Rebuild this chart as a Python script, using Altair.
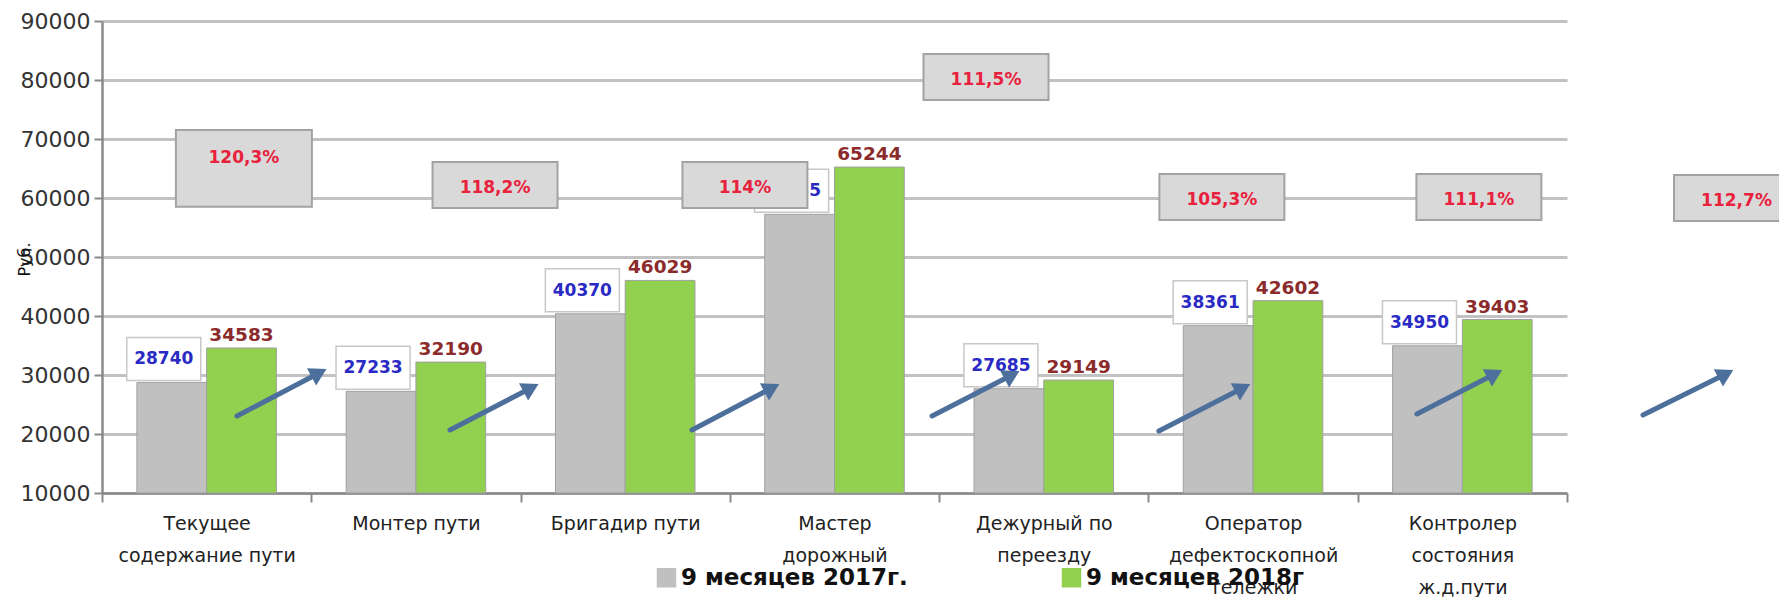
import altair as alt
import pandas as pd

# ---------------- data ----------------
categories = [
    "Текущее\nсодержание пути",
    "Монтер пути",
    "Бригадир пути",
    "Мастер\nдорожный",
    "Дежурный по\nпереезду",
    "Оператор\nдефектоскопной\nтележки",
    "Контролер\nсостояния\nж.д.пути",
]
series_names = ["9 месяцев 2017г.", "9 месяцев 2018г"]
values_2017 = [28740, 27233, 40370, 57235, 27685, 38361, 34950]
values_2018 = [34583, 32190, 46029, 65244, 29149, 42602, 39403]
growth_labels = ["120,3%", "118,2%", "114%", "111,5%", "105,3%", "111,1%", "112,7%"]
y_ticks = [10000, 20000, 30000, 40000, 50000, 60000, 70000, 80000, 90000]

# annotation placement: x in category units (0 = left edge, 7 = right edge), y in axis units
growth_x = [0.678, 1.878, 3.072, 4.224, 5.351, 6.579, 7.81]
growth_y = [66800, 61700, 61700, 80000, 59660, 59660, 59500]
arrow_x1 = [0.645, 1.663, 2.819, 3.966, 5.050, 6.283, 7.363]
arrow_y1 = [23050, 20680, 20680, 23050, 20510, 23390, 23220]
arrow_x2 = [1.037, 2.050, 3.201, 4.348, 5.451, 6.655, 7.759]
arrow_y2 = [30340, 27800, 27800, 30000, 27800, 30170, 30170]

# ---------------- tables ----------------
bars_df = pd.DataFrame({
    "category": categories * 2,
    "series": [series_names[0]] * len(categories) + [series_names[1]] * len(categories),
    "value": values_2017 + values_2018,
})
df17 = bars_df[bars_df["series"] == series_names[0]]
df18 = bars_df[bars_df["series"] == series_names[1]]

BIG_BOX = "M-1,-0.41H1V0.72H-1Z"
STD_BOX = "M-1,-0.416H1V0.32H-1Z"
growth_df = pd.DataFrame({
    "label": growth_labels,
    "u": growth_x,
    "v": growth_y,
    "shape": [BIG_BOX] + [STD_BOX] * (len(growth_labels) - 1),
    "size": [136 * 136] + [125 * 125] * (len(growth_labels) - 1),
})
arrow_df = pd.DataFrame({"u1": arrow_x1, "v1": arrow_y1, "u2": arrow_x2, "v2": arrow_y2})

FONT = "DejaVu Sans"
W, H = 1465, 472

yscale = alt.Scale(domain=[10000, 90000], nice=False, zero=False)
xband = alt.Scale(domain=categories, paddingInner=0, paddingOuter=0)
xoff = alt.Scale(domain=series_names, paddingInner=0, paddingOuter=0.5)
uscale = alt.Scale(domain=[0, 7], nice=False, zero=False)

YAX = alt.Axis(
    values=y_ticks, format="d", labelFontSize=22, labelColor="#333", labelFont=FONT,
    tickSize=8, tickWidth=2, tickColor="#8a8a8a", domainColor="#8a8a8a", domainWidth=2.5,
    grid=True, gridColor="#c2c2c2", gridWidth=3, labelPadding=4,
    title="Руб.", titleFontSize=16, titleFontWeight="normal", titleColor="#111",
    titleFont=FONT, titleX=-78, titleY=238, titleAngle=270,
    titleAlign="center", titleBaseline="middle",
)

X = alt.X(
    "category:N", sort=categories, scale=xband,
    axis=alt.Axis(
        title=None, labelAngle=0, labelExpr="split(datum.label, '\\n')",
        labelFontSize=19, labelLineHeight=32, labelColor="#222", labelFont=FONT,
        labelLimit=0, tickBand="extent", tickSize=9, tickWidth=2, tickColor="#8a8a8a",
        domainColor="#8a8a8a", domainWidth=2.5, labelPadding=12, grid=False,
    ),
)
Xn = alt.X("category:N", sort=categories, scale=xband, axis=None)
XO = alt.XOffset("series:N", scale=xoff)
Yv = alt.Y("value:Q", scale=yscale, axis=YAX)

bars = alt.Chart(bars_df).mark_bar(stroke="#a0a0a0", strokeWidth=1).encode(
    x=X,
    xOffset=XO,
    y=Yv,
    y2=alt.datum(10000),
    color=alt.Color(
        "series:N",
        scale=alt.Scale(domain=series_names, range=["#c0c0c0", "#92d050"]),
        legend=alt.Legend(
            title=None, orient="none", legendX=553, legendY=545, direction="horizontal",
            symbolType="square", symbolSize=380, symbolStrokeWidth=0, labelFontSize=23,
            labelFontWeight="bold", labelColor="#111", labelFont=FONT, labelOffset=3,
            columnPadding=152, padding=0, labelLimit=0,
        ),
    ),
)

lbl_box = alt.Chart(df17).mark_point(
    shape="M-1.216,-1.216H0.784V-0.054H-1.216Z", size=74 * 74, filled=True,
    fill="white", stroke="#c8c8c8", strokeWidth=1.5, opacity=1,
).encode(x=Xn, xOffset=XO, y=Yv)

lbl_text = alt.Chart(df17).mark_text(
    dx=-8, dy=-23, fontSize=17, fontWeight="bold", color="#2a2ac4", font=FONT, baseline="middle",
).encode(x=Xn, xOffset=XO, y=Yv, text=alt.Text("value:Q", format="d"))

lbl18 = alt.Chart(df18).mark_text(
    dy=-13, fontSize=18.5, fontWeight="bold", color="#8b2b2b", font=FONT, baseline="middle",
).encode(x=Xn, xOffset=XO, y=Yv, text=alt.Text("value:Q", format="d"))

U = lambda f: alt.X(f, type="quantitative", scale=uscale, axis=None)
V = lambda f: alt.Y(f, type="quantitative", scale=yscale, axis=YAX)

pct_box = alt.Chart(growth_df).mark_point(
    filled=True, fill="#d9d9d9", stroke="#a3a3a3", strokeWidth=2, opacity=1,
).encode(
    x=U("u"), y=V("v"),
    shape=alt.Shape("shape:N", scale=None),
    size=alt.Size("size:Q", scale=None),
)
pct_text = alt.Chart(growth_df).mark_text(
    fontSize=17, fontWeight="bold", color="#e8213c", font=FONT, baseline="middle",
).encode(x=U("u"), y=V("v"), text="label:N")

arrow_shaft = alt.Chart(arrow_df).mark_rule(
    color="#4d6f9c", strokeWidth=5, strokeCap="round",
).encode(x=U("u1"), y=V("v1"), x2="u2:Q", y2="v2:Q")
arrow_head = alt.Chart(arrow_df).mark_point(
    shape="triangle-right", size=380, filled=True, color="#4d6f9c", opacity=1, angle=332,
).encode(x=U("u2"), y=V("v2"))

chart = alt.layer(
    bars, lbl_box, lbl_text, lbl18, pct_box, pct_text, arrow_shaft, arrow_head
).resolve_scale(x="independent").properties(
    width=W, height=H,
    padding={"left": 94, "top": 13, "right": 212, "bottom": 104},
    autosize=alt.AutoSizeParams(type="none"),
).configure(font=FONT).configure_view(stroke=None)

chart.save("out.html", embed_options={"renderer": "svg", "actions": False})
